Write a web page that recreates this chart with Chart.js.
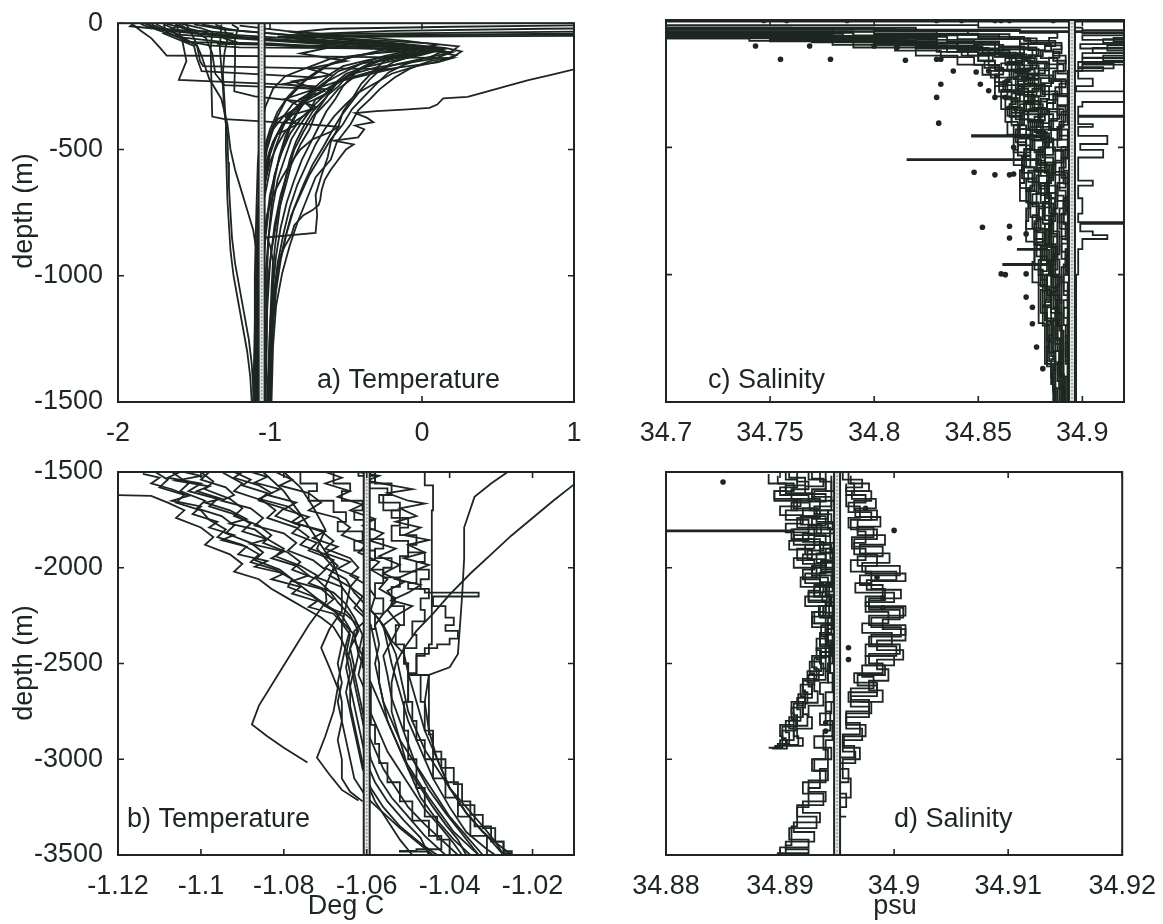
<!DOCTYPE html>
<html>
<head>
<meta charset="utf-8">
<script src="https://cdn.jsdelivr.net/npm/chart.js@4.4.1/dist/chart.umd.min.js"></script>
<style>
  html, body { margin: 0; padding: 0; background: #ffffff; }
  body { position: relative; width: 1163px; height: 924px; overflow: hidden; }
  canvas { position: absolute; }
</style>
</head>
<body>
<canvas id="panelA" width="600" height="470" style="left:0px;top:0px"></canvas>
<canvas id="panelC" width="563" height="470" style="left:600px;top:0px"></canvas>
<canvas id="panelB" width="600" height="494" style="left:0px;top:430px"></canvas>
<canvas id="panelD" width="563" height="494" style="left:600px;top:430px"></canvas>
<script>
const INK = '#1d2620';
const FONT = '"Liberation Sans", Arial, Helvetica, sans-serif';
const FONT_SIZE = 27;

// ---- axes: ticks and labels ----
const tempUpperTicks = [-2, -1, 0, 1];
const tempUpperLabels = ['-2', '-1', '0', '1'];
const tempDeepTicks = [-1.12, -1.1, -1.08, -1.06, -1.04, -1.02];
const tempDeepLabels = ['-1.12', '-1.1', '-1.08', '-1.06', '-1.04', '-1.02'];
const salUpperTicks = [34.7, 34.75, 34.8, 34.85, 34.9];
const salUpperLabels = ['34.7', '34.75', '34.8', '34.85', '34.9'];
const salDeepTicks = [34.88, 34.89, 34.9, 34.91, 34.92];
const salDeepLabels = ['34.88', '34.89', '34.9', '34.91', '34.92'];
const upperDepthTicks = [-1500, -1000, -500, 0];
const upperDepthLabels = ['-1500', '-1000', '-500', '0'];
const deepDepthTicks = [-3500, -3000, -2500, -2000, -1500];
const deepDepthLabels = ['-3500', '-3000', '-2500', '-2000', '-1500'];

// mean reference values (vertical double lines)
const refTempUpper = -1.055;
const refTempDeep = -1.06;
const refSalUpper = 34.895;
const refSalDeep = 34.895;

// ---- a) temperature, 0 to -1500 m : [deg C, depth] ----
const tempUpperProfiles = [
  [[1.8,-5],[1.0,-9],[0.2,-14],[-0.6,-22],[-0.85,-36],[-0.7,-52],[-0.35,-66],[0.05,-80],[0.24,-92],[0.18,-118],[0.0,-140],[-0.12,-165],[-0.22,-195],[-0.3,-240],[-0.38,-290],[-0.46,-340],[-0.52,-400],[-0.6,-460],[-0.66,-520],[-0.74,-600],[-0.8,-680],[-0.86,-760],[-0.9,-850],[-0.94,-950],[-0.97,-1060],[-0.99,-1200],[-1.0,-1350],[-1.01,-1500]],
  [[1.6,-18],[0.8,-22],[-0.2,-30],[-0.8,-44],[-0.55,-60],[-0.2,-78],[0.15,-98],[0.26,-112],[0.2,-135],[0.05,-150],[-0.08,-180],[-0.18,-215],[-0.28,-262],[-0.34,-300],[-0.42,-345],[-0.47,-400],[-0.56,-470],[-0.6,-540],[-0.7,-610],[-0.76,-700],[-0.82,-790],[-0.87,-880],[-0.92,-990],[-0.96,-1120],[-0.98,-1280],[-0.99,-1500]],
  [[1.5,-30],[0.5,-36],[-0.5,-42],[-0.9,-48],[-0.6,-70],[-0.25,-90],[0.1,-112],[0.22,-128],[0.12,-150],[-0.05,-172],[-0.2,-200],[-0.3,-235],[-0.42,-275],[-0.5,-320],[-0.58,-370],[-0.64,-420],[-0.7,-480],[-0.76,-560],[-0.82,-640],[-0.87,-730],[-0.91,-830],[-0.95,-950],[-0.98,-1100],[-1.0,-1300],[-1.01,-1500]],
  [[1.4,-40],[0.3,-44],[-0.8,-50],[-0.5,-62],[-0.3,-80],[0.0,-98],[0.14,-110],[0.05,-135],[-0.15,-160],[-0.3,-185],[-0.45,-215],[-0.55,-260],[-0.62,-310],[-0.7,-360],[-0.74,-420],[-0.8,-480],[-0.86,-560],[-0.9,-650],[-0.95,-760],[-0.99,-900],[-1.02,-1050],[-1.03,-1250],[-1.04,-1500]],
  [[1.3,-45],[0.0,-47],[-0.95,-52],[-0.75,-68],[-0.5,-82],[-0.2,-95],[0.0,-120],[-0.2,-140],[-0.4,-160],[-0.55,-190],[-0.62,-225],[-0.72,-270],[-0.8,-330],[-0.86,-400],[-0.9,-470],[-0.95,-560],[-1.0,-680],[-1.03,-820],[-1.05,-1000],[-1.06,-1250],[-1.06,-1500]],
  [[1.6,-140],[1.25,-165],[1.0,-183],[0.85,-205],[0.7,-225],[0.55,-250],[0.42,-272],[0.3,-292],[0.14,-298],[0.1,-322],[0.05,-335],[-0.12,-342],[-0.3,-348],[-0.44,-356],[-0.36,-375],[-0.32,-392],[-0.44,-405],[-0.38,-420],[-0.42,-452],[-0.58,-465],[-0.45,-480],[-0.5,-500],[-0.55,-540],[-0.6,-580],[-0.64,-620],[-0.66,-660],[-0.67,-700],[-0.68,-720],[-0.72,-740],[-0.78,-760],[-0.84,-800],[-0.86,-840],[-0.9,-880],[-0.93,-920],[-0.95,-980],[-0.97,-1060],[-0.98,-1150],[-0.99,-1250],[-0.99,-1380],[-1.0,-1500]],
  [[1.2,-50],[-0.9,-55],[-0.6,-75],[-0.1,-92],[0.05,-105],[-0.1,-125],[-0.25,-150],[-0.32,-190],[-0.4,-240],[-0.45,-290],[-0.52,-350],[-0.55,-410],[-0.6,-470],[-0.62,-530],[-0.66,-600],[-0.7,-680],[-0.69,-760],[-0.7,-830],[-1.02,-848],[-1.0,-880],[-0.98,-940],[-0.99,-1050],[-1.0,-1200],[-1.01,-1500]],
  [[-1.6,-3],[-1.55,-20],[-1.4,-40],[-1.0,-55],[-0.5,-72],[-0.1,-88],[0.12,-100],[0.0,-118],[-0.22,-135],[-0.35,-160],[-0.42,-190],[-0.5,-215],[-0.55,-250],[-0.62,-285],[-0.66,-320],[-0.72,-370],[-0.78,-430],[-0.84,-500],[-0.88,-580],[-0.93,-680],[-0.97,-800],[-1.0,-950],[-1.02,-1150],[-1.03,-1500]],
  [[-1.8,-3],[-1.75,-25],[-1.6,-55],[-1.3,-75],[-0.9,-90],[-0.4,-100],[0.0,-108],[0.2,-115],[0.08,-140],[-0.1,-158],[-0.3,-175],[-0.45,-200],[-0.55,-230],[-0.6,-270],[-0.7,-300],[-0.74,-350],[-0.8,-400],[-0.86,-460],[-0.9,-530],[-0.95,-620],[-0.98,-720],[-1.01,-850],[-1.03,-1000],[-1.04,-1250],[-1.05,-1500]],
  [[-1.7,-5],[-1.68,-35],[-1.55,-70],[-1.4,-88],[-1.2,-96],[-0.4,-100],[0.15,-102],[0.0,-125],[-0.2,-150],[-0.38,-175],[-0.5,-200],[-0.58,-240],[-0.65,-290],[-0.72,-330],[-0.8,-380],[-0.87,-440],[-0.93,-520],[-0.97,-600],[-1.0,-700],[-1.03,-850],[-1.05,-1000],[-1.06,-1200],[-1.07,-1500]],
  [[-1.9,-6],[-1.85,-30],[-1.78,-60],[-1.72,-100],[-1.68,-128],[-0.6,-132],[0.2,-138],[0.1,-155],[-0.15,-175],[-0.35,-195],[-0.5,-220],[-0.6,-250],[-0.68,-280],[-0.8,-320],[-0.88,-360],[-0.92,-420],[-0.97,-500],[-1.0,-580],[-1.04,-700],[-1.06,-850],[-1.07,-1000],[-1.08,-1250],[-1.08,-1500]],
  [[-1.75,-4],[-1.62,-40],[-1.48,-90],[-1.46,-150],[-1.44,-170],[-0.8,-178],[-0.2,-182],[-0.4,-210],[-0.58,-235],[-0.7,-260],[-0.76,-300],[-0.84,-340],[-0.9,-390],[-0.96,-450],[-1.0,-520],[-1.03,-620],[-1.05,-760],[-1.07,-920],[-1.08,-1100],[-1.09,-1300],[-1.1,-1500]],
  [[-1.68,-3],[-1.5,-30],[-1.42,-60],[-1.38,-120],[-1.36,-200],[-1.3,-245],[-0.9,-255],[-0.6,-262],[-0.65,-290],[-0.78,-320],[-0.85,-360],[-0.92,-410],[-0.98,-470],[-1.02,-540],[-1.05,-650],[-1.07,-800],[-1.08,-1000],[-1.09,-1200],[-1.09,-1500]],
  [[-1.58,-3],[-1.45,-20],[-1.38,-35],[-1.39,-100],[-1.385,-250],[-1.38,-370],[-1.3,-380],[-0.8,-398],[-0.55,-410],[-0.6,-430],[-0.72,-460],[-0.8,-500],[-0.86,-550],[-0.92,-610],[-0.98,-680],[-1.02,-760],[-1.05,-880],[-1.07,-1050],[-1.08,-1250],[-1.08,-1500]],
  [[-1.25,-5],[-1.21,-20],[-1.23,-60],[-1.23,-150],[-1.235,-270],[-1.1,-290],[-0.8,-310],[-0.7,-330],[-0.76,-360],[-0.84,-390],[-0.9,-430],[-0.95,-480],[-1.0,-550],[-1.04,-650],[-1.06,-780],[-1.07,-950],[-1.08,-1150],[-1.08,-1500]],
  [[-1.36,-5],[-1.3,-20],[-1.28,-60],[-1.3,-120],[-1.31,-200],[-1.3,-300],[-1.29,-400],[-1.29,-500],[-1.285,-600],[-1.28,-700],[-1.27,-800],[-1.26,-900],[-1.24,-1000],[-1.21,-1100],[-1.18,-1200],[-1.15,-1300],[-1.13,-1400],[-1.12,-1500]],
  [[-1.32,-5],[-1.33,-100],[-1.31,-250],[-1.3,-350],[-1.28,-450],[-1.275,-550],[-1.27,-650],[-1.26,-750],[-1.25,-850],[-1.23,-950],[-1.2,-1050],[-1.17,-1150],[-1.14,-1250],[-1.12,-1350],[-1.11,-1450],[-1.1,-1500]],
  [[-1.55,-5],[-1.5,-60],[-1.45,-130],[-1.4,-220],[-1.32,-300],[-1.28,-400],[-1.26,-500],[-1.23,-580],[-1.19,-660],[-1.15,-740],[-1.11,-820],[-1.09,-900],[-1.08,-1000],[-1.08,-1200],[-1.09,-1500]],
  [[-1.45,-5],[-1.2,-30],[-0.6,-60],[-0.2,-80],[0.0,-92],[-0.2,-110],[-0.45,-130],[-0.6,-160],[-0.7,-200],[-0.8,-240],[-0.88,-290],[-0.95,-350],[-1.0,-420],[-1.04,-500],[-1.07,-600],[-1.08,-750],[-1.09,-950],[-1.1,-1200],[-1.11,-1500]],
  [[-1.62,-4],[-1.5,-40],[-1.0,-62],[-0.5,-80],[-0.15,-92],[-0.3,-112],[-0.5,-140],[-0.65,-175],[-0.75,-215],[-0.82,-260],[-0.9,-310],[-0.96,-380],[-1.01,-450],[-1.05,-540],[-1.07,-650],[-1.08,-800],[-1.09,-1000],[-1.1,-1300],[-1.1,-1500]],
  [[-1.5,-5],[-1.3,-25],[-0.8,-50],[-0.4,-70],[-0.1,-85],[0.05,-95],[-0.1,-120],[-0.35,-145],[-0.52,-170],[-0.6,-200],[-0.68,-240],[-0.76,-290],[-0.84,-340],[-0.92,-400],[-0.98,-470],[-1.02,-560],[-1.04,-680],[-1.05,-820],[-1.06,-1000],[-1.07,-1250],[-1.07,-1500]],
  [[-1.78,-4],[-1.72,-20],[-1.6,-45],[-1.1,-65],[-0.6,-85],[-0.3,-100],[-0.1,-118],[-0.25,-140],[-0.38,-170],[-0.5,-210],[-0.58,-250],[-0.64,-300],[-0.72,-350],[-0.78,-410],[-0.83,-470],[-0.87,-540],[-0.9,-620],[-0.93,-710],[-0.95,-800],[-0.97,-900],[-0.98,-1000],[-0.99,-1150],[-0.995,-1300],[-1.0,-1500]],
  [[-1.2,-10],[-0.9,-30],[-0.5,-50],[-0.1,-70],[0.1,-85],[-0.05,-105],[-0.25,-130],[-0.4,-160],[-0.5,-190],[-0.62,-230],[-0.7,-270],[-0.78,-320],[-0.85,-380],[-0.9,-450],[-0.94,-530],[-0.97,-620],[-0.99,-720],[-1.01,-850],[-1.02,-1000],[-1.02,-1200],[-1.03,-1500]],
  [[-1.85,-3],[-1.8,-15],[-1.65,-25],[-1.6,-55],[-1.55,-75],[-1.0,-80],[-0.6,-95],[-0.8,-120],[-0.5,-150],[-0.75,-180],[-0.6,-205],[-0.85,-230],[-0.7,-260],[-0.9,-300],[-0.8,-330],[-0.95,-380],[-1.0,-450],[-1.05,-560],[-1.07,-700],[-1.08,-900],[-1.08,-1200],[-1.08,-1500]],
  [[-1.6,-8],[-1.7,-40],[-1.5,-90],[-1.48,-140],[-1.45,-190],[-1.0,-205],[-0.7,-215],[-0.9,-240],[-0.65,-270],[-0.8,-300],[-0.72,-340],[-0.9,-370],[-0.82,-400],[-0.95,-440],[-1.0,-500],[-1.04,-600],[-1.06,-750],[-1.07,-950],[-1.08,-1200],[-1.09,-1500]],
  [[-1.9,-2],[-1.92,-12],[-1.7,-25],[-1.4,-32],[-1.25,-40],[-1.3,-60],[-1.22,-75],[-1.35,-82],[-0.2,-95],[0.0,-105],[-0.3,-118],[-0.6,-140],[-0.75,-175],[-0.9,-210],[-0.98,-260],[-1.03,-330],[-1.06,-420],[-1.08,-550],[-1.09,-750],[-1.1,-1000],[-1.1,-1300],[-1.11,-1500]],
  [[-1.62,-4],[-1.58,-60],[-1.55,-150],[-1.6,-225],[-1.3,-232],[-1.0,-240],[-0.7,-250],[-0.75,-280],[-0.85,-320],[-0.9,-360],[-0.98,-420],[-1.02,-500],[-1.05,-620],[-1.07,-780],[-1.08,-1000],[-1.09,-1300],[-1.1,-1500]],
  [[-1.7,-4],[-1.6,-30],[-1.2,-58],[-0.7,-76],[-0.3,-90],[0.05,-112],[-0.08,-130],[-0.28,-150],[-0.4,-178],[-0.46,-210],[-0.52,-250],[-0.57,-300],[-0.63,-350],[-0.68,-410],[-0.73,-470],[-0.79,-540],[-0.84,-620],[-0.89,-710],[-0.93,-810],[-0.96,-920],[-0.98,-1050],[-1.0,-1200],[-1.01,-1350],[-1.02,-1500]],
  [[-1.82,-3],[-1.7,-28],[-1.3,-52],[-0.85,-70],[-0.45,-84],[-0.12,-96],[0.08,-110],[-0.05,-128],[-0.18,-152],[-0.27,-182],[-0.34,-220],[-0.4,-262],[-0.46,-310],[-0.53,-365],[-0.59,-425],[-0.65,-490],[-0.72,-560],[-0.78,-640],[-0.84,-730],[-0.89,-830],[-0.93,-940],[-0.96,-1060],[-0.98,-1200],[-0.99,-1350],[-1.0,-1500]]
];

// ---- b) temperature, -1500 to -3500 m ----
const tempDeepProfiles = [
  [[-1.111,-1500],[-1.108,-1540],[-1.11,-1580],[-1.104,-1620],[-1.106,-1660],[-1.1,-1700],[-1.098,-1750],[-1.094,-1800],[-1.096,-1840],[-1.09,-1880],[-1.086,-1930],[-1.088,-1970],[-1.082,-2010],[-1.078,-2060],[-1.079,-2100],[-1.073,-2150],[-1.07,-2200],[-1.066,-2250],[-1.064,-2320],[-1.065,-2400],[-1.066,-2500],[-1.067,-2600],[-1.066,-2700],[-1.066,-2800],[-1.065,-2900],[-1.064,-3000],[-1.063,-3100],[-1.06,-3200],[-1.056,-3280],[-1.052,-3360],[-1.048,-3430],[-1.044,-3500]],
  [[-1.105,-1500],[-1.108,-1530],[-1.1,-1560],[-1.103,-1600],[-1.096,-1640],[-1.098,-1680],[-1.092,-1720],[-1.088,-1770],[-1.09,-1810],[-1.084,-1850],[-1.08,-1900],[-1.082,-1940],[-1.076,-1990],[-1.072,-2040],[-1.074,-2080],[-1.068,-2130],[-1.065,-2190],[-1.063,-2260],[-1.061,-2350],[-1.062,-2450],[-1.063,-2550],[-1.062,-2650],[-1.061,-2750],[-1.06,-2850],[-1.058,-2950],[-1.056,-3050],[-1.053,-3150],[-1.05,-3250],[-1.046,-3340],[-1.042,-3420],[-1.038,-3500]],
  [[-1.098,-1500],[-1.1,-1540],[-1.094,-1580],[-1.092,-1620],[-1.095,-1650],[-1.088,-1690],[-1.085,-1740],[-1.087,-1780],[-1.08,-1820],[-1.077,-1870],[-1.079,-1910],[-1.073,-1960],[-1.07,-2010],[-1.072,-2050],[-1.066,-2100],[-1.064,-2160],[-1.061,-2230],[-1.059,-2300],[-1.058,-2400],[-1.057,-2500],[-1.057,-2600],[-1.056,-2700],[-1.055,-2800],[-1.053,-2900],[-1.051,-3000],[-1.048,-3100],[-1.045,-3200],[-1.042,-3290],[-1.039,-3380],[-1.035,-3460],[-1.033,-3500]],
  [[-1.09,-1500],[-1.092,-1530],[-1.086,-1570],[-1.083,-1610],[-1.086,-1640],[-1.079,-1680],[-1.076,-1730],[-1.078,-1760],[-1.071,-1810],[-1.068,-1860],[-1.07,-1900],[-1.064,-1950],[-1.062,-2000],[-1.064,-2040],[-1.06,-2090],[-1.058,-2150],[-1.059,-2220],[-1.056,-2300],[-1.055,-2400],[-1.054,-2500],[-1.052,-2650],[-1.05,-2800],[-1.047,-2950],[-1.044,-3100],[-1.04,-3250],[-1.036,-3380],[-1.031,-3470],[-1.029,-3500]],
  [[-1.082,-1500],[-1.078,-1540],[-1.081,-1570],[-1.074,-1610],[-1.071,-1660],[-1.074,-1700],[-1.067,-1740],[-1.064,-1790],[-1.066,-1830],[-1.06,-1880],[-1.062,-1920],[-1.057,-1970],[-1.059,-2010],[-1.055,-2060],[-1.057,-2110],[-1.053,-2160],[-1.055,-2220],[-1.052,-2300],[-1.054,-2380],[-1.051,-2450],[-1.05,-2550],[-1.048,-2700],[-1.046,-2850],[-1.043,-3000],[-1.04,-3150],[-1.036,-3280],[-1.032,-3380],[-1.028,-3450],[-1.025,-3500]],
  [[-1.08,-1500],[-1.076,-1580],[-1.073,-1680],[-1.07,-1800],[-1.072,-1900],[-1.068,-2000],[-1.07,-2100],[-1.0697,-2174],[-1.074,-2300],[-1.078,-2440],[-1.082,-2580],[-1.086,-2720],[-1.0877,-2818],[-1.084,-2880],[-1.08,-2940],[-1.0743,-3017]],
  [[-1.085,-1500],[-1.08,-1600],[-1.076,-1720],[-1.072,-1850],[-1.068,-1980],[-1.066,-2100],[-1.066,-2226],[-1.069,-2320],[-1.071,-2418],[-1.069,-2520],[-1.067,-2627],[-1.068,-2750],[-1.07,-2880],[-1.072,-2992],[-1.069,-3080],[-1.066,-3160],[-1.062,-3215]],
  [[-1.095,-1500],[-1.09,-1560],[-1.092,-1600],[-1.085,-1650],[-1.082,-1700],[-1.084,-1740],[-1.077,-1790],[-1.074,-1840],[-1.076,-1880],[-1.07,-1930],[-1.067,-1990],[-1.069,-2040],[-1.064,-2100],[-1.065,-2200],[-1.066,-2300],[-1.066,-2400],[-1.067,-2500],[-1.066,-2600],[-1.067,-2700],[-1.066,-2800],[-1.067,-2900],[-1.066,-3000],[-1.066,-3100],[-1.064,-3170],[-1.061,-3220]],
  [[-1.107,-1500],[-1.103,-1560],[-1.105,-1600],[-1.099,-1650],[-1.101,-1690],[-1.095,-1730],[-1.092,-1780],[-1.094,-1820],[-1.088,-1870],[-1.085,-1920],[-1.087,-1960],[-1.081,-2010],[-1.078,-2060],[-1.075,-2110],[-1.072,-2160],[-1.068,-2220],[-1.066,-2280],[-1.063,-2350],[-1.062,-2450],[-1.06,-2550],[-1.058,-2650],[-1.056,-2750],[-1.054,-2850],[-1.052,-2950],[-1.05,-3050],[-1.047,-3150],[-1.044,-3250],[-1.041,-3340],[-1.038,-3420],[-1.036,-3500]],
  [[-1.125,-1618],[-1.112,-1625],[-1.108,-1660],[-1.104,-1700],[-1.106,-1740],[-1.1,-1790],[-1.097,-1840],[-1.099,-1880],[-1.093,-1930],[-1.09,-1980],[-1.092,-2020],[-1.086,-2060],[-1.083,-2110],[-1.079,-2160],[-1.075,-2210],[-1.071,-2260],[-1.068,-2310],[-1.066,-2380],[-1.064,-2480],[-1.063,-2600],[-1.062,-2700],[-1.061,-2800],[-1.06,-2900],[-1.059,-3000],[-1.057,-3100],[-1.054,-3200],[-1.05,-3300],[-1.046,-3400],[-1.041,-3500]],
  [[-1.1,-1500],[-1.097,-1550],[-1.099,-1590],[-1.093,-1640],[-1.09,-1690],[-1.092,-1730],[-1.086,-1780],[-1.083,-1830],[-1.085,-1870],[-1.079,-1920],[-1.076,-1970],[-1.078,-2010],[-1.072,-2060],[-1.069,-2120],[-1.067,-2180],[-1.064,-2250],[-1.062,-2330],[-1.064,-2420],[-1.065,-2520],[-1.064,-2620],[-1.064,-2720],[-1.063,-2820],[-1.062,-2920],[-1.061,-3020],[-1.06,-3120],[-1.058,-3220],[-1.055,-3320],[-1.052,-3420],[-1.049,-3500]],
  [[-1.026,-1500],[-1.03,-1560],[-1.034,-1630],[-1.0365,-1790],[-1.0365,-1950],[-1.037,-2150],[-1.0375,-2300],[-1.038,-2450],[-1.04,-2520],[-1.045,-2560],[-1.046,-2700],[-1.045,-2850],[-1.043,-3000],[-1.04,-3150],[-1.036,-3280],[-1.031,-3400],[-1.027,-3500]],
  [[-1.005,-1520],[-1.01,-1565],[-1.015,-1650],[-1.02,-1740],[-1.025,-1830],[-1.03,-1930],[-1.035,-2030],[-1.04,-2140],[-1.044,-2240],[-1.048,-2330],[-1.051,-2420],[-1.053,-2500],[-1.054,-2600],[-1.054,-2750],[-1.052,-2900],[-1.05,-3050],[-1.047,-3200],[-1.043,-3320],[-1.039,-3420],[-1.035,-3500]],
  [[-1.104,-1500],[-1.1,-1520],[-1.106,-1545],[-1.098,-1575],[-1.101,-1600],[-1.095,-1640],[-1.099,-1660],[-1.093,-1700],[-1.089,-1745],[-1.093,-1770],[-1.087,-1800],[-1.084,-1850],[-1.088,-1875],[-1.08,-1915],[-1.083,-1950],[-1.077,-1990],[-1.074,-2040],[-1.078,-2070],[-1.071,-2110],[-1.068,-2165],[-1.07,-2200],[-1.065,-2245],[-1.062,-2300],[-1.063,-2380],[-1.061,-2460],[-1.062,-2560],[-1.06,-2660],[-1.059,-2760],[-1.057,-2860],[-1.055,-2960],[-1.052,-3060],[-1.049,-3160],[-1.046,-3260],[-1.042,-3360],[-1.039,-3440],[-1.037,-3500]],
  [[-1.114,-1510],[-1.11,-1530],[-1.112,-1560],[-1.107,-1590],[-1.103,-1625],[-1.107,-1650],[-1.1,-1680],[-1.102,-1720],[-1.096,-1760],[-1.098,-1790],[-1.092,-1830],[-1.095,-1855],[-1.089,-1890],[-1.091,-1930],[-1.084,-1965],[-1.087,-1995],[-1.08,-2030],[-1.083,-2060],[-1.076,-2100],[-1.078,-2135],[-1.072,-2175],[-1.074,-2205],[-1.068,-2240],[-1.066,-2290],[-1.064,-2350],[-1.065,-2450],[-1.064,-2550],[-1.065,-2650],[-1.064,-2750],[-1.063,-2850],[-1.062,-2950],[-1.061,-3050],[-1.059,-3150],[-1.056,-3250],[-1.052,-3350],[-1.047,-3440],[-1.043,-3500]],
  [[-1.062,-1500],[-1.057,-1520],[-1.06,-1545],[-1.054,-1570],[-1.049,-1590],[-1.055,-1610],[-1.05,-1650],[-1.046,-1665],[-1.052,-1690],[-1.048,-1730],[-1.053,-1760],[-1.047,-1790],[-1.051,-1830],[-1.045,-1855],[-1.05,-1880],[-1.046,-1920],[-1.051,-1950],[-1.045,-1985],[-1.049,-2020],[-1.053,-2060],[-1.047,-2090],[-1.05,-2130],[-1.054,-2170],[-1.049,-2200],[-1.053,-2250],[-1.056,-2300],[-1.054,-2380],[-1.056,-2460],[-1.055,-2560],[-1.054,-2680],[-1.052,-2800],[-1.05,-2920],[-1.048,-3040],[-1.045,-3160],[-1.041,-3280],[-1.037,-3390],[-1.033,-3500]],
  [[-1.07,-1500],[-1.066,-1530],[-1.07,-1560],[-1.064,-1600],[-1.067,-1630],[-1.061,-1670],[-1.064,-1700],[-1.058,-1745],[-1.061,-1780],[-1.056,-1820],[-1.059,-1860],[-1.053,-1900],[-1.057,-1940],[-1.052,-1985],[-1.056,-2030],[-1.051,-2075],[-1.055,-2120],[-1.053,-2180],[-1.056,-2240],[-1.058,-2300],[-1.057,-2400],[-1.058,-2500],[-1.057,-2600],[-1.056,-2700],[-1.054,-2800],[-1.052,-2900],[-1.049,-3000],[-1.046,-3100],[-1.043,-3200],[-1.04,-3300],[-1.036,-3400],[-1.032,-3500]],
  [[-1.088,-1500],[-1.084,-1525],[-1.087,-1555],[-1.081,-1590],[-1.084,-1620],[-1.077,-1660],[-1.08,-1695],[-1.074,-1735],[-1.077,-1770],[-1.07,-1810],[-1.073,-1845],[-1.067,-1890],[-1.07,-1925],[-1.064,-1970],[-1.067,-2005],[-1.062,-2050],[-1.064,-2100],[-1.061,-2150],[-1.063,-2210],[-1.06,-2270],[-1.063,-2330],[-1.064,-2420],[-1.063,-2520],[-1.064,-2620],[-1.063,-2720],[-1.062,-2820],[-1.061,-2920],[-1.06,-3020],[-1.058,-3120],[-1.055,-3220],[-1.051,-3320],[-1.047,-3410],[-1.045,-3500]],
  [[-1.092,-1500],[-1.088,-1540],[-1.09,-1570],[-1.084,-1610],[-1.086,-1650],[-1.08,-1690],[-1.082,-1730],[-1.076,-1780],[-1.078,-1820],[-1.072,-1870],[-1.074,-1910],[-1.068,-1960],[-1.07,-2000],[-1.065,-2060],[-1.063,-2130],[-1.06,-2200],[-1.057,-2270],[-1.055,-2350],[-1.053,-2450],[-1.052,-2550],[-1.051,-2650],[-1.05,-2750],[-1.048,-2850],[-1.046,-2950],[-1.043,-3050],[-1.04,-3150],[-1.036,-3250],[-1.032,-3350],[-1.029,-3430],[-1.027,-3500]]
];
const tempDeepStairs = [
  [[-1.062,-1500],[-1.058,-1520],[-1.06,-1555],[-1.055,-1585],[-1.057,-1620],[-1.052,-1660],[-1.054,-1700],[-1.05,-1740],[-1.052,-1790],[-1.048,-1830],[-1.05,-1880],[-1.046,-1920],[-1.048,-1970],[-1.045,-2010],[-1.047,-2060],[-1.045,-2110],[-1.047,-2160],[-1.046,-2220],[-1.049,-2280],[-1.048,-2350],[-1.051,-2420],[-1.05,-2500],[-1.05,-2600],[-1.049,-2700],[-1.048,-2800],[-1.046,-2900],[-1.044,-3000],[-1.041,-3100],[-1.038,-3200],[-1.035,-3300],[-1.031,-3400],[-1.026,-3500]],
  [[-1.046,-1500],[-1.046,-1560],[-1.044,-1570],[-1.0443,-1700],[-1.0443,-1900],[-1.0443,-2100],[-1.0443,-2300],[-1.045,-2400],[-1.048,-2450],[-1.05,-2550],[-1.051,-2700],[-1.05,-2850],[-1.048,-3000],[-1.046,-3150],[-1.043,-3300],[-1.04,-3420],[-1.037,-3500]],
  [[-1.058,-1500],[-1.054,-1560],[-1.056,-1620],[-1.052,-1700],[-1.054,-1780],[-1.05,-1860],[-1.052,-1940],[-1.048,-2020],[-1.05,-2080],[-1.046,-2110],[-1.033,-2130],[-1.044,-2150],[-1.041,-2200],[-1.039,-2260],[-1.041,-2300],[-1.038,-2330],[-1.04,-2370],[-1.043,-2400],[-1.046,-2420],[-1.048,-2460],[-1.047,-2560],[-1.046,-2700],[-1.044,-2850],[-1.041,-3000],[-1.038,-3120],[-1.034,-3240],[-1.03,-3350],[-1.027,-3430],[-1.025,-3480],[-1.0245,-3500]],
  [[-1.068,-1500],[-1.064,-1560],[-1.066,-1600],[-1.061,-1650],[-1.063,-1700],[-1.058,-1750],[-1.06,-1800],[-1.056,-1850],[-1.058,-1900],[-1.054,-1950],[-1.056,-2000],[-1.052,-2050],[-1.054,-2100],[-1.051,-2200],[-1.053,-2300],[-1.051,-2400],[-1.05,-2500],[-1.045,-2560],[-1.045,-2700],[-1.044,-2870],[-1.042,-2960],[-1.039,-3045],[-1.037,-3130],[-1.035,-3220],[-1.032,-3290],[-1.029,-3360],[-1.027,-3430],[-1.025,-3490]],
  [[-1.076,-1500],[-1.072,-1560],[-1.074,-1600],[-1.068,-1650],[-1.065,-1710],[-1.067,-1760],[-1.061,-1810],[-1.063,-1860],[-1.058,-1910],[-1.06,-1960],[-1.056,-2010],[-1.058,-2080],[-1.056,-2160],[-1.058,-2240],[-1.06,-2320],[-1.061,-2420],[-1.06,-2520],[-1.059,-2620],[-1.059,-2720],[-1.058,-2820],[-1.057,-2920],[-1.055,-3020],[-1.052,-3120],[-1.049,-3220],[-1.045,-3320],[-1.042,-3400],[-1.048,-3470],[-1.052,-3478],[-1.045,-3482],[-1.043,-3500]]
];

// ---- c) salinity, 0 to -1500 m : [psu, depth] ----
const salUpperProfiles = [
  [[34.4,-2],[34.95,-2.5]],
  [[34.95,-6],[34.4,-6.5]],
  [[34.6,-8],[34.7,-60],[34.75,-68],[34.8,-80],[34.83,-98],[34.85,-125],[34.858,-160],[34.865,-200],[34.862,-240],[34.868,-280],[34.865,-330],[34.87,-380],[34.868,-430],[34.873,-480],[34.871,-540],[34.876,-600],[34.874,-660],[34.878,-720],[34.877,-800],[34.88,-880],[34.879,-960],[34.882,-1040],[34.881,-1120],[34.884,-1200],[34.883,-1280],[34.886,-1360],[34.887,-1440],[34.888,-1500]],
  [[34.55,-5],[34.7,-50],[34.76,-62],[34.81,-74],[34.84,-90],[34.86,-112],[34.872,-140],[34.868,-175],[34.876,-210],[34.872,-250],[34.879,-300],[34.874,-350],[34.881,-400],[34.877,-460],[34.882,-520],[34.879,-580],[34.884,-650],[34.881,-720],[34.885,-800],[34.883,-880],[34.886,-960],[34.885,-1050],[34.888,-1150],[34.887,-1250],[34.889,-1350],[34.89,-1450],[34.89,-1500]],
  [[34.5,-10],[34.7,-40],[34.78,-55],[34.83,-70],[34.86,-88],[34.878,-108],[34.874,-140],[34.882,-170],[34.877,-210],[34.884,-260],[34.88,-310],[34.886,-370],[34.882,-430],[34.887,-500],[34.884,-570],[34.888,-650],[34.886,-740],[34.889,-830],[34.887,-920],[34.89,-1010],[34.889,-1110],[34.891,-1220],[34.891,-1350],[34.892,-1500]],
  [[34.62,-12],[34.7,-30],[34.79,-45],[34.84,-60],[34.87,-75],[34.885,-95],[34.88,-120],[34.888,-150],[34.884,-190],[34.89,-240],[34.886,-290],[34.891,-350],[34.888,-420],[34.892,-500],[34.889,-580],[34.892,-670],[34.89,-760],[34.893,-860],[34.891,-960],[34.893,-1080],[34.892,-1200],[34.893,-1350],[34.893,-1500]],
  [[34.65,-15],[34.7,-22],[34.8,-30],[34.87,-40],[34.92,-48],[34.93,-60],[34.91,-75],[34.93,-90],[34.905,-110],[34.93,-130],[34.9,-150],[34.915,-170],[34.898,-190],[34.905,-230],[34.897,-260],[34.925,-280],[34.93,-318],[34.9,-322],[34.898,-340],[34.925,-376],[34.898,-380],[34.905,-409],[34.898,-420],[34.912,-455],[34.899,-487],[34.91,-510],[34.898,-540],[34.905,-631],[34.898,-650],[34.9,-700],[34.898,-760],[34.925,-794],[34.899,-800],[34.905,-830],[34.912,-845],[34.9,-860],[34.898,-900],[34.897,-1000],[34.897,-1200],[34.896,-1500]],
  [[34.4,-10],[34.7,-14],[34.85,-20],[34.9,-30],[34.95,-40],[34.9,-60],[34.93,-78],[34.899,-95],[34.93,-112],[34.9,-130],[34.93,-148],[34.898,-165],[34.91,-185],[34.895,-200],[34.893,-250],[34.894,-400],[34.893,-600],[34.894,-900],[34.893,-1200],[34.893,-1500]],
  [[34.6,-20],[34.7,-28],[34.82,-36],[34.9,-44],[34.93,-52],[34.915,-70],[34.93,-85],[34.912,-100],[34.925,-120],[34.91,-140],[34.93,-160],[34.9,-175],[34.893,-200],[34.895,-300],[34.894,-500],[34.895,-800],[34.894,-1100],[34.894,-1500]],
  [[34.6,-25],[34.7,-45],[34.78,-58],[34.83,-72],[34.86,-90],[34.87,-115],[34.875,-150],[34.872,-200],[34.878,-250],[34.875,-300],[34.88,-350],[34.878,-400],[34.882,-440],[34.847,-452],[34.884,-458],[34.882,-500],[34.886,-560],[34.884,-620],[34.887,-700],[34.885,-790],[34.862,-958],[34.886,-962],[34.888,-1000],[34.887,-1050],[34.89,-1100],[34.889,-1250],[34.891,-1400],[34.891,-1500]],
  [[34.55,-35],[34.7,-55],[34.77,-64],[34.82,-80],[34.85,-100],[34.865,-130],[34.87,-170],[34.868,-220],[34.874,-270],[34.87,-330],[34.876,-390],[34.873,-450],[34.879,-510],[34.816,-546],[34.88,-550],[34.878,-610],[34.882,-680],[34.879,-740],[34.883,-820],[34.869,-899],[34.884,-903],[34.885,-950],[34.883,-1000],[34.887,-1080],[34.886,-1180],[34.889,-1300],[34.889,-1420],[34.89,-1500]],
  [[34.5,-20],[34.7,-48],[34.74,-56],[34.79,-66],[34.82,-80],[34.845,-105],[34.855,-140],[34.86,-180],[34.858,-220],[34.864,-260],[34.861,-300],[34.866,-350],[34.864,-400],[34.869,-450],[34.867,-510],[34.872,-570],[34.87,-640],[34.874,-710],[34.873,-790],[34.877,-870],[34.876,-950],[34.879,-1030],[34.879,-1110],[34.882,-1190],[34.882,-1270],[34.885,-1350],[34.886,-1430],[34.887,-1500]],
  [[34.6,-30],[34.7,-58],[34.75,-66],[34.8,-76],[34.84,-92],[34.865,-120],[34.878,-150],[34.874,-190],[34.88,-230],[34.876,-270],[34.883,-320],[34.879,-370],[34.885,-420],[34.881,-480],[34.886,-540],[34.883,-610],[34.887,-680],[34.885,-760],[34.888,-840],[34.886,-920],[34.889,-1000],[34.888,-1100],[34.89,-1200],[34.89,-1320],[34.891,-1440],[34.891,-1500]],
  [[34.91,-1],[34.45,-4],[34.45,-15],[34.7,-35],[34.8,-46],[34.85,-58],[34.875,-72],[34.89,-90],[34.886,-115],[34.892,-140],[34.888,-170],[34.893,-210],[34.889,-250],[34.893,-300],[34.89,-360],[34.893,-430],[34.891,-510],[34.894,-600],[34.891,-700],[34.893,-800],[34.892,-900],[34.894,-1000],[34.893,-1150],[34.894,-1300],[34.894,-1500]],
  [[34.58,-40],[34.7,-62],[34.76,-70],[34.81,-82],[34.835,-100],[34.85,-125],[34.858,-160],[34.866,-195],[34.863,-235],[34.87,-275],[34.866,-320],[34.872,-365],[34.869,-410],[34.875,-460],[34.873,-520],[34.877,-580],[34.875,-650],[34.879,-720],[34.877,-790],[34.881,-860],[34.88,-940],[34.883,-1020],[34.882,-1100],[34.885,-1180],[34.884,-1260],[34.887,-1340],[34.887,-1420],[34.888,-1500]],
  [[34.6,-38],[34.7,-52],[34.78,-62],[34.82,-80],[34.85,-108],[34.868,-135],[34.864,-165],[34.873,-200],[34.869,-240],[34.876,-280],[34.872,-320],[34.879,-370],[34.875,-420],[34.882,-470],[34.878,-530],[34.884,-590],[34.88,-650],[34.885,-720],[34.882,-800],[34.887,-880],[34.885,-960],[34.888,-1050],[34.887,-1150],[34.89,-1250],[34.889,-1350],[34.891,-1450],[34.891,-1500]],
  [[34.5,-5],[34.7,-24],[34.82,-30],[34.87,-38],[34.888,-50],[34.884,-70],[34.89,-100],[34.886,-130],[34.892,-160],[34.887,-200],[34.893,-240],[34.888,-290],[34.892,-340],[34.889,-400],[34.893,-470],[34.89,-540],[34.893,-620],[34.891,-710],[34.894,-800],[34.892,-900],[34.894,-1000],[34.893,-1100],[34.894,-1250],[34.894,-1400],[34.894,-1500]],
  [[34.63,-50],[34.7,-64],[34.77,-72],[34.83,-88],[34.855,-110],[34.873,-135],[34.869,-160],[34.877,-190],[34.872,-225],[34.88,-260],[34.876,-300],[34.882,-345],[34.878,-395],[34.884,-445],[34.88,-500],[34.886,-560],[34.883,-630],[34.887,-700],[34.884,-770],[34.888,-850],[34.886,-930],[34.889,-1010],[34.888,-1100],[34.89,-1200],[34.89,-1300],[34.892,-1400],[34.892,-1500]],
  [[34.6,-55],[34.7,-63],[34.75,-70],[34.79,-84],[34.82,-108],[34.84,-140],[34.852,-175],[34.86,-215],[34.858,-260],[34.866,-300],[34.863,-350],[34.869,-400],[34.867,-460],[34.872,-520],[34.87,-590],[34.875,-660],[34.873,-740],[34.878,-820],[34.877,-900],[34.881,-980],[34.88,-1060],[34.883,-1150],[34.883,-1250],[34.886,-1350],[34.887,-1450],[34.887,-1500]],
  [[34.55,-28],[34.7,-38],[34.79,-50],[34.835,-66],[34.86,-84],[34.872,-104],[34.868,-130],[34.876,-160],[34.871,-195],[34.879,-235],[34.874,-280],[34.881,-330],[34.877,-380],[34.883,-440],[34.879,-500],[34.885,-570],[34.882,-640],[34.886,-720],[34.884,-800],[34.888,-890],[34.886,-980],[34.889,-1080],[34.888,-1180],[34.89,-1300],[34.89,-1420],[34.89,-1500]],
  [[34.6,-33],[34.7,-43],[34.785,-54],[34.83,-70],[34.858,-90],[34.876,-115],[34.871,-145],[34.879,-178],[34.874,-215],[34.882,-255],[34.877,-300],[34.884,-350],[34.88,-405],[34.886,-465],[34.882,-530],[34.887,-600],[34.884,-680],[34.888,-760],[34.886,-850],[34.889,-940],[34.888,-1040],[34.89,-1150],[34.89,-1270],[34.891,-1390],[34.891,-1500]],
  [[34.6,-22],[34.7,-26],[34.76,-30],[34.81,-36],[34.845,-44],[34.865,-56],[34.878,-72],[34.874,-95],[34.881,-118],[34.877,-142],[34.884,-170],[34.879,-198],[34.885,-228],[34.881,-260],[34.887,-292],[34.883,-326],[34.888,-360],[34.884,-396],[34.889,-432],[34.886,-470],[34.89,-510],[34.887,-552],[34.891,-596],[34.888,-640],[34.891,-690],[34.889,-740],[34.892,-795],[34.89,-850],[34.892,-910],[34.89,-970],[34.893,-1030],[34.891,-1100],[34.893,-1170],[34.892,-1240],[34.893,-1320],[34.892,-1400],[34.893,-1500]],
  [[34.55,-42],[34.7,-47],[34.77,-52],[34.82,-62],[34.848,-78],[34.862,-98],[34.858,-120],[34.866,-145],[34.861,-170],[34.869,-198],[34.864,-226],[34.871,-256],[34.866,-288],[34.873,-320],[34.868,-355],[34.875,-390],[34.87,-428],[34.876,-466],[34.872,-506],[34.878,-548],[34.874,-592],[34.879,-636],[34.876,-684],[34.881,-732],[34.878,-782],[34.882,-834],[34.88,-888],[34.884,-944],[34.882,-1000],[34.885,-1060],[34.883,-1120],[34.886,-1185],[34.885,-1250],[34.887,-1320],[34.886,-1390],[34.888,-1460],[34.888,-1500]],
  [[34.6,-48],[34.7,-53],[34.76,-58],[34.8,-68],[34.83,-84],[34.852,-104],[34.868,-128],[34.863,-150],[34.872,-176],[34.867,-204],[34.875,-232],[34.869,-262],[34.877,-294],[34.872,-326],[34.879,-360],[34.874,-396],[34.881,-432],[34.876,-470],[34.882,-510],[34.878,-552],[34.884,-596],[34.88,-640],[34.885,-688],[34.882,-736],[34.886,-786],[34.884,-838],[34.887,-892],[34.885,-948],[34.888,-1006],[34.886,-1066],[34.889,-1128],[34.888,-1192],[34.89,-1258],[34.889,-1326],[34.891,-1396],[34.89,-1466],[34.891,-1500]],
  [[34.6,-56],[34.7,-60],[34.75,-64],[34.79,-72],[34.82,-88],[34.842,-112],[34.857,-140],[34.853,-162],[34.862,-188],[34.858,-214],[34.866,-244],[34.861,-274],[34.869,-306],[34.864,-340],[34.871,-376],[34.867,-412],[34.873,-450],[34.869,-490],[34.875,-532],[34.871,-576],[34.877,-622],[34.873,-668],[34.879,-716],[34.876,-766],[34.881,-818],[34.878,-872],[34.883,-928],[34.88,-986],[34.884,-1046],[34.882,-1108],[34.886,-1172],[34.884,-1238],[34.887,-1306],[34.886,-1376],[34.888,-1446],[34.887,-1500]],
  [[34.58,-26],[34.7,-32],[34.78,-38],[34.83,-46],[34.86,-58],[34.874,-74],[34.87,-92],[34.879,-114],[34.874,-138],[34.883,-164],[34.877,-190],[34.886,-218],[34.88,-248],[34.888,-280],[34.883,-314],[34.889,-350],[34.885,-388],[34.89,-428],[34.886,-470],[34.891,-514],[34.887,-560],[34.892,-608],[34.888,-658],[34.892,-710],[34.889,-764],[34.893,-820],[34.89,-878],[34.893,-938],[34.891,-1000],[34.893,-1064],[34.891,-1130],[34.894,-1198],[34.892,-1268],[34.894,-1340],[34.893,-1414],[34.894,-1500]],
  [[34.6,-60],[34.7,-66],[34.74,-72],[34.78,-82],[34.81,-98],[34.832,-120],[34.848,-146],[34.86,-176],[34.856,-200],[34.864,-226],[34.86,-252],[34.868,-282],[34.863,-312],[34.871,-344],[34.866,-378],[34.873,-414],[34.869,-452],[34.875,-492],[34.871,-534],[34.877,-578],[34.873,-624],[34.878,-672],[34.875,-722],[34.88,-774],[34.877,-828],[34.882,-884],[34.879,-942],[34.883,-1002],[34.881,-1064],[34.885,-1128],[34.883,-1194],[34.886,-1262],[34.885,-1332],[34.887,-1404],[34.887,-1476],[34.888,-1500]],
  [[34.5,-33],[34.7,-40],[34.8,-45],[34.85,-54],[34.872,-66],[34.887,-82],[34.882,-102],[34.889,-124],[34.884,-148],[34.891,-174],[34.886,-202],[34.892,-232],[34.887,-264],[34.893,-298],[34.888,-334],[34.893,-372],[34.889,-412],[34.894,-454],[34.89,-498],[34.894,-544],[34.891,-592],[34.894,-642],[34.892,-694],[34.894,-748],[34.892,-804],[34.894,-862],[34.892,-922],[34.894,-984],[34.893,-1048],[34.894,-1114],[34.893,-1182],[34.894,-1252],[34.893,-1324],[34.894,-1398],[34.894,-1500]],
  [[34.6,-52],[34.7,-57],[34.77,-63],[34.815,-74],[34.84,-92],[34.858,-116],[34.871,-144],[34.866,-168],[34.874,-194],[34.869,-222],[34.877,-252],[34.872,-284],[34.879,-318],[34.874,-354],[34.881,-392],[34.876,-432],[34.882,-474],[34.878,-518],[34.883,-564],[34.879,-612],[34.884,-662],[34.881,-714],[34.885,-768],[34.882,-824],[34.886,-882],[34.884,-942],[34.887,-1004],[34.885,-1068],[34.888,-1134],[34.887,-1202],[34.889,-1272],[34.888,-1344],[34.89,-1418],[34.89,-1500]]
];
const salUpperDots = [
  [34.747,-2],[34.758,-2],[34.787,-2],[34.83,-2],[34.842,-2],[34.858,-2],[34.861,-2],[34.865,-2],[34.886,-2],
  [34.743,-102],[34.769,-102],[34.8,-102],[34.811,-108],[34.755,-154],[34.779,-154],[34.815,-158],[34.83,-154],[34.832,-154],
  [34.838,-200],[34.849,-204],[34.855,-200],[34.832,-252],[34.851,-252],[34.855,-278],[34.83,-304],[34.858,-304],[34.863,-304],
  [34.868,-350],[34.831,-405],[34.867,-500],[34.848,-598],[34.858,-608],[34.865,-608],[34.867,-605],
  [34.852,-814],[34.865,-810],[34.865,-856],[34.873,-840],[34.861,-997],[34.863,-1000],[34.873,-997],
  [34.873,-1088],[34.876,-1128],[34.876,-1193],[34.878,-1284],[34.881,-1369]
];

// ---- d) salinity, -1500 to -3500 m ----
const salDeepProfiles = [
  [[34.8905,-1500],[34.8915,-1540],[34.89,-1580],[34.8925,-1620],[34.891,-1660],[34.8935,-1700],[34.8915,-1740],[34.893,-1790],[34.8912,-1830],[34.8935,-1880],[34.892,-1930],[34.894,-1980],[34.8922,-2030],[34.8938,-2080],[34.8925,-2130],[34.894,-2180],[34.893,-2230],[34.8945,-2290],[34.8935,-2340],[34.894,-2400],[34.8928,-2460],[34.8932,-2520],[34.892,-2580],[34.8922,-2640],[34.891,-2700],[34.8912,-2760],[34.89,-2820],[34.8902,-2880],[34.889,-2940]],
  [[34.8915,-1500],[34.8925,-1550],[34.891,-1590],[34.8935,-1640],[34.892,-1690],[34.894,-1730],[34.8925,-1780],[34.894,-1830],[34.8922,-1880],[34.894,-1930],[34.8928,-1990],[34.8945,-2040],[34.893,-2090],[34.8945,-2150],[34.8935,-2200],[34.8948,-2260],[34.894,-2320],[34.8945,-2380],[34.8935,-2440],[34.8938,-2500],[34.8925,-2560],[34.8928,-2620],[34.8915,-2680],[34.8918,-2740],[34.8905,-2800],[34.8908,-2860],[34.8898,-2920],[34.8895,-2940]],
  [[34.889,-1510],[34.8905,-1560],[34.8895,-1600],[34.8915,-1650],[34.8905,-1700],[34.8925,-1750],[34.891,-1800],[34.893,-1850],[34.8915,-1900],[34.893,-1960],[34.892,-2010],[34.8935,-2060],[34.8925,-2120],[34.894,-2170],[34.8928,-2230],[34.8942,-2290],[34.8935,-2350],[34.894,-2410],[34.893,-2470],[34.8934,-2530],[34.892,-2590],[34.8924,-2650],[34.8912,-2710],[34.8915,-2770],[34.8902,-2830],[34.8905,-2890],[34.8895,-2930]],
  [[34.8925,-1500],[34.894,-1540],[34.8928,-1590],[34.8945,-1630],[34.893,-1680],[34.8945,-1720],[34.8932,-1770],[34.8948,-1820],[34.8935,-1870],[34.8948,-1920],[34.8936,-1970],[34.8946,-2020],[34.894,-2080],[34.8947,-2140],[34.8938,-2200],[34.8946,-2260],[34.8942,-2320],[34.8946,-2390],[34.894,-2460],[34.8942,-2540],[34.8935,-2600],[34.8938,-2660],[34.8925,-2720],[34.8928,-2780],[34.8915,-2840],[34.892,-2890],[34.8905,-2930]],
  [[34.8935,-1500],[34.8945,-1550],[34.893,-1600],[34.8945,-1650],[34.8932,-1700],[34.8946,-1760],[34.8912,-1800],[34.879,-1805],[34.8912,-1810],[34.8935,-1850],[34.8946,-1900],[34.8936,-1960],[34.8947,-2010],[34.894,-2080],[34.8947,-2150],[34.8942,-2250],[34.8946,-2350],[34.8944,-2450],[34.8946,-2550],[34.894,-2650],[34.8944,-2750],[34.8938,-2850],[34.8942,-2950],[34.8935,-3050],[34.8925,-3150],[34.8915,-3250],[34.891,-3350],[34.8905,-3450],[34.89,-3500]],
  [[34.8955,-1500],[34.8972,-1540],[34.8958,-1580],[34.8975,-1620],[34.896,-1660],[34.898,-1710],[34.8962,-1750],[34.8985,-1800],[34.8965,-1850],[34.899,-1890],[34.8968,-1940],[34.9005,-1990],[34.897,-2040],[34.899,-2090],[34.8975,-2150],[34.901,-2200],[34.8978,-2250],[34.901,-2300],[34.898,-2350],[34.9005,-2400],[34.8978,-2450],[34.899,-2500],[34.8965,-2550],[34.8985,-2600],[34.896,-2650],[34.898,-2700],[34.8958,-2760],[34.8975,-2820],[34.8956,-2880],[34.897,-2940],[34.8955,-3000],[34.8962,-3100],[34.8952,-3200],[34.8958,-3300]],
  [[34.896,-1500],[34.8965,-1560],[34.8958,-1620],[34.897,-1680],[34.896,-1740],[34.8982,-1790],[34.8963,-1840],[34.8975,-1900],[34.8962,-1960],[34.898,-2020],[34.8966,-2080],[34.9,-2130],[34.8975,-2180],[34.8995,-2230],[34.8972,-2290],[34.8998,-2340],[34.8975,-2400],[34.9,-2460],[34.8972,-2510],[34.8982,-2570],[34.8962,-2630],[34.8978,-2690],[34.8958,-2750],[34.897,-2810],[34.8955,-2870],[34.8965,-2930],[34.8952,-2990],[34.896,-3050],[34.8952,-3120],[34.8958,-3180],[34.895,-3250]],
  [[34.8958,-1560],[34.898,-1600],[34.8965,-1650],[34.8985,-1700],[34.8968,-1750],[34.8975,-1810],[34.8965,-1870],[34.8985,-1930],[34.8975,-1990],[34.901,-2030],[34.898,-2070],[34.8992,-2110],[34.8978,-2170],[34.9005,-2220],[34.899,-2270],[34.901,-2320],[34.8985,-2380],[34.9008,-2430],[34.8985,-2480],[34.8995,-2530],[34.8978,-2590],[34.899,-2640],[34.897,-2700]],
  [[34.894,-1500],[34.8948,-1600],[34.8942,-1700],[34.8947,-1800],[34.894,-1900],[34.8946,-2000],[34.8941,-2100],[34.8946,-2200],[34.894,-2300],[34.8946,-2400],[34.8942,-2500],[34.8947,-2600],[34.894,-2700],[34.8946,-2800],[34.894,-2900],[34.894,-2950],[34.893,-3000],[34.8942,-3060],[34.8925,-3110],[34.894,-3170],[34.892,-3220],[34.8935,-3280],[34.8912,-3330],[34.893,-3380],[34.8905,-3430],[34.8925,-3470],[34.8898,-3490],[34.891,-3500]],
  [[34.8945,-1520],[34.8949,-1650],[34.8944,-1800],[34.8949,-1950],[34.8943,-2100],[34.8948,-2250],[34.8943,-2400],[34.8948,-2550],[34.8945,-2700],[34.8935,-2760],[34.8946,-2820],[34.893,-2880],[34.8945,-2940],[34.8928,-3000],[34.894,-3060],[34.892,-3120],[34.8938,-3180],[34.8915,-3240],[34.8932,-3300],[34.8908,-3360],[34.8925,-3420],[34.89,-3460],[34.8918,-3500]],
  [[34.8908,-1500],[34.8922,-1530],[34.8905,-1570],[34.8928,-1610],[34.8912,-1650],[34.8932,-1690],[34.8918,-1730],[34.8936,-1775],[34.892,-1820],[34.8938,-1865],[34.8924,-1910],[34.894,-1955],[34.8928,-2000],[34.8942,-2050],[34.893,-2100],[34.8944,-2150],[34.8934,-2200],[34.8945,-2250],[34.8936,-2300],[34.8942,-2360],[34.8932,-2420],[34.8936,-2480],[34.8924,-2540],[34.8928,-2600],[34.8916,-2660],[34.892,-2720],[34.8908,-2780],[34.8912,-2840],[34.89,-2900],[34.8895,-2935]],
  [[34.8898,-1520],[34.8912,-1560],[34.8895,-1600],[34.8918,-1640],[34.89,-1680],[34.892,-1725],[34.8905,-1770],[34.8925,-1815],[34.8908,-1860],[34.8928,-1905],[34.8912,-1950],[34.8932,-2000],[34.8918,-2050],[34.8935,-2100],[34.8922,-2150],[34.8938,-2200],[34.8928,-2255],[34.894,-2310],[34.8932,-2370],[34.8936,-2430],[34.8926,-2490],[34.893,-2550],[34.8918,-2610],[34.8922,-2670],[34.891,-2730],[34.8914,-2790],[34.8902,-2850],[34.8906,-2900],[34.8893,-2945]],
  [[34.8928,-1500],[34.8938,-1535],[34.8922,-1575],[34.894,-1615],[34.8926,-1655],[34.8942,-1700],[34.8928,-1745],[34.8944,-1790],[34.893,-1835],[34.8945,-1880],[34.8932,-1925],[34.8946,-1975],[34.8935,-2025],[34.8946,-2075],[34.8937,-2125],[34.8947,-2180],[34.894,-2235],[34.8947,-2290],[34.8941,-2345],[34.8944,-2405],[34.8936,-2465],[34.894,-2525],[34.893,-2585],[34.8933,-2645],[34.892,-2705],[34.8924,-2765],[34.8912,-2825],[34.8916,-2880],[34.8903,-2925]],
  [[34.8962,-1520],[34.8978,-1560],[34.8963,-1600],[34.8984,-1640],[34.8966,-1690],[34.8988,-1735],[34.8968,-1785],[34.8992,-1830],[34.897,-1880],[34.8996,-1925],[34.8972,-1975],[34.9002,-2020],[34.8976,-2065],[34.9006,-2115],[34.8978,-2160],[34.9008,-2210],[34.898,-2260],[34.9006,-2310],[34.8978,-2360],[34.9002,-2410],[34.8975,-2460],[34.8992,-2510],[34.8968,-2560],[34.8985,-2615],[34.8962,-2670],[34.8978,-2725],[34.8958,-2780],[34.8972,-2840],[34.8955,-2900],[34.8966,-2960],[34.8952,-3020]]
];
const salDeepDots = [
  [34.885,-1552],[34.9,-1805],[34.899,-2157],[34.899,-2209],[34.896,-2418],[34.896,-2479],[34.894,-2810],[34.894,-2853],[34.8975,-1690],[34.8985,-2050]
];

// ---- frame, inward tick marks and annotations ----
const framePlugin = {
  id: 'frame',
  afterDatasetsDraw(chart, args, opts) {
    const { ctx, chartArea: a, scales } = chart;
    const sx = scales.x, sy = scales.y;
    ctx.save();
    ctx.strokeStyle = INK;
    ctx.lineWidth = 2;
    ctx.strokeRect(a.left, a.top, a.right - a.left, a.bottom - a.top);
    ctx.lineWidth = 1.6;
    const tl = 6;
    ctx.beginPath();
    opts.xTicks.forEach(v => {
      const p = sx.getPixelForValue(v);
      ctx.moveTo(p, a.bottom); ctx.lineTo(p, a.bottom - tl);
      ctx.moveTo(p, a.top); ctx.lineTo(p, a.top + tl);
    });
    opts.yTicks.forEach(v => {
      const p = sy.getPixelForValue(v);
      ctx.moveTo(a.left, p); ctx.lineTo(a.left + tl, p);
      ctx.moveTo(a.right, p); ctx.lineTo(a.right - tl, p);
    });
    ctx.stroke();
    ctx.fillStyle = INK;
    ctx.font = FONT_SIZE + 'px ' + FONT;
    opts.texts.forEach(t => {
      ctx.save();
      ctx.translate(t.x, t.y);
      if (t.rot) ctx.rotate(t.rot);
      ctx.textAlign = t.align || 'left';
      ctx.textBaseline = t.base || 'alphabetic';
      ctx.fillText(t.text, 0, 0);
      ctx.restore();
    });
    ctx.restore();
  }
};

function toPoints(arr) { return arr.map(([x, y]) => ({ x, y })); }

function panel(id, o) {
  const datasets = [];
  const refData = [{ x: o.ref, y: o.yMin }, { x: o.ref, y: o.yMax }];
  datasets.push({ data: refData, showLine: true, borderColor: '#8e918f', borderWidth: 1.5, borderDash: [1.5, 2], pointRadius: 0, clip: 0, order: 0 });
  datasets.push({ data: refData, showLine: true, borderColor: '#e4e4e4', borderWidth: 4, pointRadius: 0, clip: 0, order: 1 });
  datasets.push({ data: refData, showLine: true, borderColor: INK, borderWidth: 8, pointRadius: 0, clip: 0, order: 2 });
  if (o.dots) {
    datasets.push({ data: toPoints(o.dots), showLine: false, pointRadius: 2.8, pointBackgroundColor: INK, pointBorderWidth: 0, order: 3 });
  }
  o.profiles.forEach(p => datasets.push({
    data: toPoints(p), showLine: true, borderColor: INK, borderWidth: o.lw, pointRadius: 0,
    stepped: o.stepped || false, order: 4
  }));
  (o.stairs || []).forEach(p => datasets.push({
    data: toPoints(p), showLine: true, borderColor: INK, borderWidth: o.lw, pointRadius: 0,
    stepped: 'after', order: 4
  }));
  const canvas = document.getElementById(id);
  const W = canvas.width, H = canvas.height;
  const tickFont = { family: FONT, size: FONT_SIZE };
  new Chart(canvas, {
    type: 'scatter',
    data: { datasets },
    options: {
      responsive: false, animation: false, events: [],
      layout: { padding: { top: o.area.top, right: W - o.area.right, left: 0, bottom: 0 } },
      plugins: {
        legend: { display: false }, tooltip: { enabled: false },
        frame: { xTicks: o.xTicks, yTicks: o.yTicks, texts: o.texts }
      },
      scales: {
        x: {
          type: 'linear', position: 'bottom', min: o.xMin, max: o.xMax,
          grid: { display: false }, border: { display: false },
          ticks: { color: INK, font: tickFont, padding: 7, autoSkip: false, maxRotation: 0,
                   callback: (v, i) => o.xLabels[i] },
          afterBuildTicks: s => { s.ticks = o.xTicks.map(value => ({ value })); },
          afterFit: s => { s.height = H - o.area.bottom; }
        },
        y: {
          type: 'linear', position: 'left', min: o.yMin, max: o.yMax,
          grid: { display: false }, border: { display: false },
          ticks: { display: !!o.yLabels, color: INK, font: tickFont, padding: 7, autoSkip: false,
                   callback: (v, i) => (o.yLabels ? o.yLabels[i] : '') },
          afterBuildTicks: s => { s.ticks = o.yTicks.map(value => ({ value })); },
          afterFit: s => { s.width = o.area.left; }
        }
      }
    },
    plugins: [framePlugin]
  });
}

panel('panelA', {
  xMin: -2, xMax: 1, yMin: -1500, yMax: 0, ref: refTempUpper,
  xTicks: tempUpperTicks, xLabels: tempUpperLabels, yTicks: upperDepthTicks, yLabels: upperDepthLabels,
  area: { left: 118, top: 20, right: 574, bottom: 402 }, lw: 1.8,
  profiles: tempUpperProfiles,
  texts: [
    { text: 'depth (m)', x: 25, y: 211, rot: -Math.PI / 2, align: 'center', base: 'middle' },
    { text: 'a) Temperature', x: 317, y: 388 }
  ]
});

panel('panelB', {
  xMin: -1.12, xMax: -1.01, yMin: -3500, yMax: -1500, ref: refTempDeep,
  xTicks: tempDeepTicks, xLabels: tempDeepLabels, yTicks: deepDepthTicks, yLabels: deepDepthLabels,
  area: { left: 118, top: 42, right: 574, bottom: 425 }, lw: 1.8,
  profiles: tempDeepProfiles, stairs: tempDeepStairs,
  texts: [
    { text: 'depth (m)', x: 25, y: 233, rot: -Math.PI / 2, align: 'center', base: 'middle' },
    { text: 'b) Temperature', x: 127, y: 397 },
    { text: 'Deg C', x: 346, y: 484, align: 'center' }
  ]
});

panel('panelC', {
  xMin: 34.7, xMax: 34.92, yMin: -1500, yMax: 0, ref: refSalUpper,
  xTicks: salUpperTicks, xLabels: salUpperLabels, yTicks: upperDepthTicks, yLabels: null,
  area: { left: 66, top: 20, right: 524, bottom: 402 }, lw: 1.8, stepped: 'after',
  profiles: salUpperProfiles, dots: salUpperDots,
  texts: [
    { text: 'c) Salinity', x: 108, y: 388 }
  ]
});

panel('panelD', {
  xMin: 34.88, xMax: 34.92, yMin: -3500, yMax: -1500, ref: refSalDeep,
  xTicks: salDeepTicks, xLabels: salDeepLabels, yTicks: deepDepthTicks, yLabels: null,
  area: { left: 66, top: 42, right: 524, bottom: 425 }, lw: 1.8, stepped: 'after',
  profiles: salDeepProfiles, dots: salDeepDots,
  texts: [
    { text: 'd) Salinity', x: 294, y: 397 },
    { text: 'psu', x: 295, y: 484, align: 'center' }
  ]
});
</script>
</body>
</html>
